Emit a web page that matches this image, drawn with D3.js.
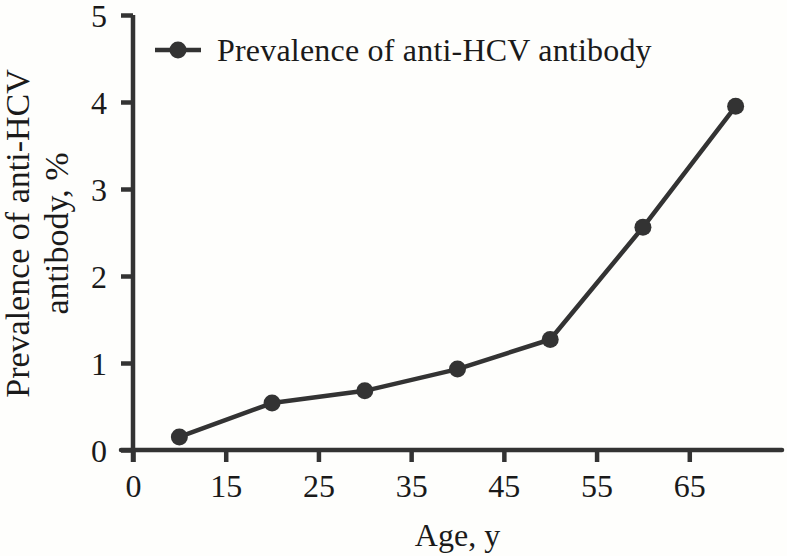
<!DOCTYPE html>
<html>
<head>
<meta charset="utf-8">
<script src="https://cdn.jsdelivr.net/npm/d3@7"></script>
<style>
  html, body { margin: 0; padding: 0; background: #fefefc; }
  svg { display: block; }
  text { font-family: "Liberation Serif", "Times New Roman", serif; fill: #1a1a1a; }
</style>
</head>
<body>
<svg id="chart" width="787" height="556"></svg>
<script>
// ---- data ----
const ages = [10, 20, 30, 40, 50, 60, 70];
const prevalence = [0.15, 0.54, 0.68, 0.93, 1.27, 2.56, 3.95];
const xTickValues = [5, 15, 25, 35, 45, 55, 65];
const xTickLabels = ["0", "15", "25", "35", "45", "55", "65"];
const yTickValues = [0, 1, 2, 3, 4, 5];
const seriesName = "Prevalence of anti-HCV antibody";
const xTitle = "Age, y";
const yTitleLines = ["Prevalence of anti-HCV", "antibody, %"];

// ---- layout ----
const W = 787, H = 556;
const mLeft = 133, mRight = 782, mTop = 15, mBottom = 450;
const ink = "#333333";
const tickLen = 12;
const fontSize = 32;

const svg = d3.select("#chart");
svg.append("rect").attr("width", W).attr("height", H).attr("fill", "#fefefc");

const x = d3.scaleLinear().domain([5, 75]).range([mLeft, mRight]);
const y = d3.scaleLinear().domain([0, 5]).range([mBottom, mTop]);

// axes
const xAxis = d3.axisBottom(x)
  .tickValues(xTickValues)
  .tickFormat((d, i) => xTickLabels[i])
  .tickSize(tickLen)
  .tickPadding(12);
const gx = svg.append("g").attr("transform", `translate(0,${mBottom})`).call(xAxis);

const yAxis = d3.axisLeft(y)
  .tickValues(yTickValues)
  .tickFormat(d3.format("d"))
  .tickSize(tickLen)
  .tickPadding(14);
const gy = svg.append("g").attr("transform", `translate(${mLeft},0)`).call(yAxis);

[gx, gy].forEach(g => {
  g.select(".domain").remove();
  g.selectAll(".tick line").attr("stroke", ink).attr("stroke-width", 4.5).attr("stroke-linecap", "butt");
  g.selectAll(".tick text").attr("font-size", fontSize).attr("font-family", "Liberation Serif, serif").attr("fill", "#1a1a1a");
});
gx.selectAll(".tick text").attr("dy", "0.72em");
gy.selectAll(".tick text").attr("dy", "0.36em");

// axis lines
svg.append("line")
  .attr("x1", x(5) - tickLen).attr("x2", x(75))
  .attr("y1", y(0)).attr("y2", y(0))
  .attr("stroke", ink).attr("stroke-width", 4.5).attr("stroke-linecap", "round");
svg.append("line")
  .attr("x1", x(5)).attr("x2", x(5))
  .attr("y1", y(5)).attr("y2", y(0) + tickLen)
  .attr("stroke", ink).attr("stroke-width", 4.5).attr("stroke-linecap", "butt");

// axis titles
svg.append("text")
  .attr("x", (x(5) + x(75)) / 2)
  .attr("y", 546)
  .attr("text-anchor", "middle")
  .attr("font-size", fontSize)
  .text(xTitle);

const yt = svg.append("text")
  .attr("transform", `translate(0,${(y(0) + y(5)) / 2 + 1}) rotate(-90)`)
  .attr("text-anchor", "middle")
  .attr("font-size", 34);
yTitleLines.forEach((t, i) => {
  yt.append("tspan").attr("x", 0).attr("y", i === 0 ? 29 : 68).text(t);
});

// series
const data = ages.map((a, i) => ({ age: a, v: prevalence[i] }));
svg.append("path")
  .datum(data)
  .attr("fill", "none")
  .attr("stroke", ink)
  .attr("stroke-width", 4.5)
  .attr("stroke-linejoin", "round")
  .attr("d", d3.line().x(d => x(d.age)).y(d => y(d.v)));
svg.selectAll("circle.pt")
  .data(data)
  .enter().append("circle")
  .attr("class", "pt")
  .attr("cx", d => x(d.age))
  .attr("cy", d => y(d.v))
  .attr("r", 8.5)
  .attr("fill", ink);

// legend
const lg = svg.append("g").attr("transform", "translate(155,50)");
lg.append("line").attr("x1", 0).attr("x2", 46).attr("y1", 0).attr("y2", 0)
  .attr("stroke", ink).attr("stroke-width", 4.5);
lg.append("circle").attr("cx", 23).attr("cy", 0).attr("r", 8.5).attr("fill", ink);
lg.append("text").attr("x", 62).attr("y", 11).attr("font-size", fontSize)
  .attr("letter-spacing", 0.2).text(seriesName);
</script>
</body>
</html>
